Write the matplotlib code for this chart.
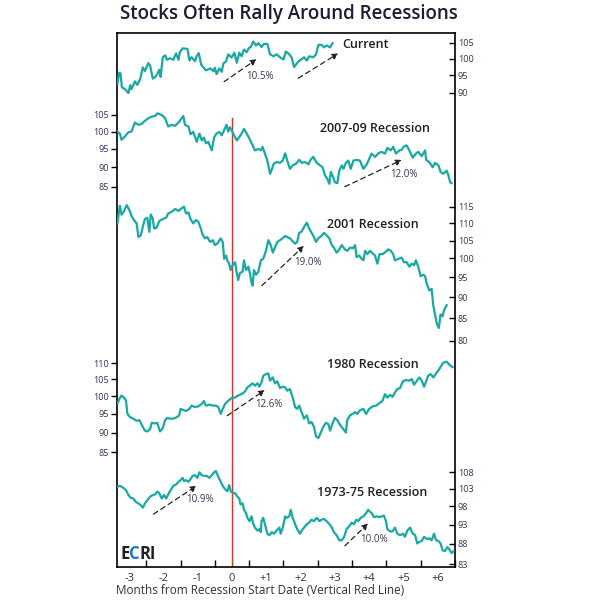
import numpy as np
import matplotlib
matplotlib.use("Agg")
import matplotlib.pyplot as plt
from matplotlib.ticker import FixedLocator, FixedFormatter, NullLocator

plt.rcParams['font.family'] = ['Open Sans', 'DejaVu Sans']

# months from recession start date, index values
cur_m = [-3.34, -3.29, -3.25, -3.21, -3.12, -3.02, -2.97, -2.93, -2.83, -2.76, -2.68, -2.60, -2.54, -2.44,
         -2.39, -2.31, -2.24, -2.18, -2.12, -2.08, -2.02, -1.95, -1.90, -1.81, -1.71, -1.63, -1.56, -1.52,
         -1.44, -1.30, -1.24, -1.18, -1.08, -1.03, -0.97, -0.90, -0.84, -0.76, -0.64, -0.54, -0.50, -0.45,
         -0.37, -0.30, -0.25, -0.17, -0.11, -0.01, 0.07, 0.14, 0.21, 0.28, 0.35, 0.43, 0.49, 0.54, 0.62,
         0.70, 0.77, 0.86, 0.93, 1.03, 1.11, 1.21, 1.30, 1.40, 1.50, 1.57, 1.67, 1.74, 1.81, 1.89, 1.96,
         2.03, 2.10, 2.18, 2.25, 2.37, 2.45, 2.52, 2.61, 2.68, 2.76, 2.86, 2.93]
cur_v = [92.5, 95.7, 95.5, 91.5, 91.0, 89.9, 92.1, 91.0, 93.2, 92.2, 93.8, 97.3, 96.2, 98.6,
         97.9, 94.0, 94.5, 95.3, 96.6, 94.5, 100.3, 101.0, 99.6, 100.1, 99.6, 101.6, 99.6, 102.0,
         103.2, 103.0, 99.4, 100.4, 99.2, 100.7, 101.7, 98.2, 97.4, 96.4, 97.0, 96.2, 97.2, 95.3,
         97.0, 96.0, 98.5, 99.2, 101.3, 100.3, 101.8, 98.7, 101.8, 100.7, 102.8, 102.0, 103.3, 103.5, 105.4,
         104.1, 104.9, 103.6, 104.6, 104.6, 101.3, 100.7, 101.3, 100.4, 99.7, 102.2, 101.3, 100.3, 97.4, 98.5, 99.3,
         99.8, 100.4, 99.4, 100.7, 100.4, 101.3, 104.3, 104.3, 103.5, 104.1, 103.5, 104.8]

r07_m = [-3.34, -3.27, -3.22, -3.12, -3.02, -2.93, -2.83, -2.73, -2.63, -2.54, -2.44, -2.34, -2.24, -2.18,
         -2.05, -1.95, -1.86, -1.76, -1.66, -1.56, -1.47, -1.42, -1.37, -1.27, -1.21, -1.13, -1.03, -0.95,
         -0.88, -0.82, -0.76, -0.69, -0.59, -0.52, -0.45, -0.37, -0.30, -0.23, -0.16, -0.11, -0.06, -0.01,
         0.06, 0.14, 0.21, 0.28, 0.35, 0.43, 0.52, 0.60, 0.67, 0.77, 0.84, 0.89, 0.96, 1.03, 1.11, 1.16,
         1.22, 1.30, 1.40, 1.48, 1.55, 1.61, 1.69, 1.77, 1.87, 1.96, 2.03, 2.13, 2.23, 2.29, 2.37, 2.47,
         2.57, 2.64, 2.71, 2.78, 2.84, 2.88, 2.95, 3.00, 3.07, 3.13, 3.20, 3.25, 3.32, 3.39, 3.46, 3.54,
         3.63, 3.73, 3.83, 3.93, 4.00, 4.07, 4.17, 4.27, 4.36, 4.46, 4.53, 4.63, 4.70, 4.78, 4.88, 4.95,
         5.01, 5.09, 5.17, 5.27, 5.36, 5.43, 5.53, 5.63, 5.66, 5.75, 5.85, 5.92, 6.02, 6.08, 6.16, 6.26,
         6.31, 6.36, 6.40]
r07_v = [100.0, 99.4, 97.6, 98.6, 99.8, 100.0, 102.7, 102.0, 102.3, 103.2, 104.0, 104.5, 104.7, 105.5,
         105.0, 104.0, 101.5, 102.0, 101.7, 102.7, 104.0, 104.7, 102.0, 101.5, 99.2, 99.9, 97.0, 99.4,
         97.4, 98.2, 96.6, 97.0, 94.6, 98.4, 99.4, 99.9, 98.9, 100.4, 102.0, 100.0, 101.3, 100.3,
         98.9, 97.4, 98.4, 99.4, 100.8, 99.4, 97.7, 96.0, 94.6, 95.0, 94.6, 95.6, 93.7, 91.8, 88.3, 89.4,
         91.0, 91.4, 91.2, 91.8, 93.8, 91.8, 89.6, 90.5, 91.0, 92.0, 91.2, 91.4, 90.8, 92.0, 92.8, 91.2,
         90.5, 90.0, 87.9, 87.0, 85.7, 88.8, 87.4, 86.1, 85.9, 89.2, 90.5, 89.6, 91.2, 91.8, 89.6, 91.8,
         92.0, 91.8, 89.6, 90.8, 92.3, 93.7, 92.8, 93.8, 94.2, 93.7, 95.3, 94.6, 95.6, 93.7, 94.6, 94.8,
         95.7, 96.0, 94.6, 92.6, 93.7, 94.2, 93.0, 94.6, 92.0, 91.4, 90.0, 91.2, 90.5, 88.8, 88.3, 89.1,
         87.9, 86.1, 85.9]

r01_m = [-3.34, -3.27, -3.22, -3.15, -3.07, -2.99, -2.93, -2.86, -2.78, -2.73, -2.66, -2.60, -2.54, -2.47,
         -2.41, -2.37, -2.31, -2.27, -2.20, -2.12, -2.02, -1.92, -1.86, -1.76, -1.66, -1.56, -1.47, -1.40,
         -1.34, -1.27, -1.21, -1.13, -1.05, -0.98, -0.91, -0.86, -0.79, -0.72, -0.64, -0.56, -0.50, -0.43,
         -0.33, -0.27, -0.23, -0.17, -0.14, -0.08, -0.04, 0.02, 0.09, 0.14, 0.18, 0.23, 0.31, 0.35, 0.41,
         0.48, 0.52, 0.57, 0.60, 0.64, 0.70, 0.77, 0.84, 0.91, 0.99, 1.06, 1.13, 1.19, 1.25, 1.32, 1.40,
         1.48, 1.55, 1.61, 1.69, 1.77, 1.84, 1.90, 1.96, 2.03, 2.10, 2.18, 2.25, 2.32, 2.39, 2.45, 2.52,
         2.61, 2.68, 2.76, 2.84, 2.91, 2.97, 3.05, 3.13, 3.20, 3.29, 3.36, 3.44, 3.52, 3.59, 3.63, 3.71,
         3.78, 3.83, 3.88, 3.95, 4.02, 4.10, 4.17, 4.24, 4.30, 4.39, 4.49, 4.56, 4.63, 4.70, 4.75, 4.85,
         4.95, 5.01, 5.09, 5.17, 5.24, 5.31, 5.36, 5.43, 5.50, 5.58, 5.63, 5.68, 5.75, 5.82, 5.87, 5.92,
         5.97, 6.03, 6.08, 6.14, 6.18, 6.26]
r01_v = [110.0, 115.4, 112.6, 113.6, 115.6, 114.0, 112.3, 111.0, 110.0, 106.0, 106.5, 109.0, 111.3, 111.7,
         107.5, 112.7, 111.5, 108.5, 108.7, 110.7, 111.3, 111.7, 113.0, 113.5, 114.4, 113.8, 114.6, 115.1,
         113.0, 113.3, 111.3, 110.0, 111.0, 110.5, 108.5, 106.8, 105.6, 106.0, 104.6, 105.1, 103.7, 104.1,
         105.6, 104.6, 99.9, 100.8, 99.5, 98.6, 96.9, 98.2, 99.0, 96.1, 94.3, 96.1, 96.5, 99.5, 96.9,
         97.8, 96.1, 93.6, 92.9, 96.9, 95.7, 96.5, 99.5, 99.9, 102.1, 105.1, 103.7, 101.6, 103.0, 104.6, 105.1,
         105.7, 106.3, 106.0, 105.6, 104.8, 104.1, 104.6, 107.2, 107.6, 108.9, 110.2, 108.5, 107.2, 106.0, 104.6, 105.7,
         106.3, 107.2, 106.5, 105.6, 103.7, 103.0, 101.6, 102.5, 103.7, 102.5, 102.1, 103.0, 102.8, 103.7, 100.4, 100.8,
         99.9, 99.5, 102.1, 101.2, 102.1, 101.4, 100.8, 98.6, 101.2, 101.2, 101.9, 102.5, 102.1, 101.2, 99.5, 99.9,
         100.2, 99.0, 99.0, 97.8, 98.6, 98.2, 99.5, 97.8, 95.3, 95.7, 95.3, 93.3, 91.7, 92.1, 87.9, 85.9,
         83.8, 82.8, 85.9, 85.5, 86.9, 88.1]

r80_m = [-3.34, -3.28, -3.22, -3.15, -3.09, -3.05, -2.97, -2.88, -2.78, -2.70, -2.63, -2.54, -2.47, -2.39,
         -2.34, -2.24, -2.18, -2.10, -2.02, -1.95, -1.89, -1.81, -1.71, -1.61, -1.54, -1.50, -1.42, -1.34,
         -1.24, -1.18, -1.08, -0.98, -0.88, -0.82, -0.76, -0.66, -0.56, -0.47, -0.40, -0.33, -0.27, -0.20,
         -0.11, -0.01, 0.09, 0.16, 0.23, 0.31, 0.38, 0.45, 0.52, 0.60, 0.67, 0.74, 0.80, 0.86, 0.91, 0.99,
         1.06, 1.11, 1.19, 1.25, 1.32, 1.40, 1.48, 1.55, 1.61, 1.69, 1.77, 1.84, 1.90, 1.96, 2.03, 2.10,
         2.18, 2.25, 2.32, 2.39, 2.45, 2.52, 2.59, 2.66, 2.74, 2.81, 2.86, 2.93, 3.00, 3.07, 3.15, 3.23,
         3.32, 3.36, 3.44, 3.52, 3.59, 3.65, 3.73, 3.83, 3.91, 4.00, 4.10, 4.20, 4.30, 4.39, 4.46, 4.53,
         4.61, 4.68, 4.75, 4.82, 4.90, 4.98, 5.07, 5.17, 5.24, 5.31, 5.38, 5.46, 5.53, 5.60, 5.66, 5.72,
         5.79, 5.87, 5.95, 6.02, 6.08, 6.16, 6.26, 6.34, 6.43]
r80_v = [97.9, 99.3, 100.2, 99.6, 98.7, 95.0, 94.1, 93.7, 93.1, 93.3, 92.0, 90.5, 90.3, 90.9,
         92.6, 92.4, 92.6, 90.3, 91.1, 93.3, 93.9, 93.7, 93.7, 94.1, 94.6, 96.4, 96.1, 95.8,
         96.4, 97.3, 96.9, 97.1, 97.8, 98.6, 97.3, 97.6, 97.3, 97.3, 96.9, 95.0, 96.4, 97.8,
         98.7, 99.5, 99.6, 100.1, 100.4, 100.8, 101.4, 102.6, 103.1, 103.8, 103.1, 103.8, 102.8, 104.1, 106.1, 106.6,
         106.8, 104.6, 105.6, 103.8, 104.4, 102.4, 102.8, 102.6, 101.6, 102.1, 99.6, 96.9, 96.4, 97.3, 95.5, 93.7,
         94.6, 92.4, 92.8, 91.5, 89.0, 88.6, 90.0, 91.5, 92.6, 92.2, 90.5, 92.4, 93.9, 93.3, 92.0, 91.1,
         90.0, 93.3, 94.6, 95.0, 95.5, 95.0, 96.0, 96.4, 95.0, 96.4, 97.1, 97.3, 98.0, 98.7, 100.6, 99.6,
         100.4, 99.8, 101.1, 102.1, 102.4, 104.4, 104.8, 104.6, 105.1, 103.4, 104.4, 105.6, 104.6, 102.8, 104.4, 106.1,
         106.6, 105.6, 106.8, 107.8, 108.8, 110.2, 110.5, 109.5, 108.8]

r73_m = [-3.34, -3.27, -3.17, -3.09, -3.02, -2.95, -2.88, -2.80, -2.73, -2.66, -2.60, -2.54, -2.47, -2.39,
         -2.31, -2.24, -2.18, -2.12, -2.05, -1.98, -1.92, -1.86, -1.79, -1.71, -1.63, -1.56, -1.50, -1.44,
         -1.40, -1.34, -1.27, -1.21, -1.15, -1.08, -1.01, -0.95, -0.88, -0.82, -0.74, -0.66, -0.59, -0.52,
         -0.47, -0.40, -0.33, -0.27, -0.20, -0.14, -0.08, -0.04, 0.02, 0.09, 0.16, 0.21, 0.25, 0.31, 0.35,
         0.41, 0.45, 0.51, 0.57, 0.62, 0.67, 0.74, 0.80, 0.84, 0.86, 0.91, 0.96, 1.03, 1.09, 1.16, 1.22,
         1.30, 1.38, 1.42, 1.48, 1.55, 1.59, 1.67, 1.71, 1.77, 1.84, 1.90, 1.98, 2.03, 2.10, 2.18, 2.25,
         2.32, 2.39, 2.47, 2.55, 2.61, 2.68, 2.76, 2.84, 2.91, 2.97, 3.05, 3.13, 3.20, 3.27, 3.34, 3.42,
         3.49, 3.56, 3.62, 3.68, 3.75, 3.83, 3.91, 3.97, 4.02, 4.07, 4.14, 4.22, 4.30, 4.36, 4.43, 4.49,
         4.53, 4.61, 4.68, 4.75, 4.82, 4.90, 4.98, 5.04, 5.11, 5.19, 5.27, 5.34, 5.40, 5.46, 5.53, 5.60,
         5.68, 5.75, 5.82, 5.89, 5.95, 6.02, 6.08, 6.14, 6.21, 6.28, 6.34, 6.40, 6.45]
r73_v = [103.6, 103.9, 103.3, 102.6, 101.2, 100.4, 100.2, 99.2, 98.8, 98.3, 97.6, 98.8, 99.7, 100.7,
         101.2, 101.4, 102.2, 101.7, 100.2, 101.2, 100.2, 101.4, 102.6, 103.9, 104.3, 105.1, 105.6, 106.3,
         105.3, 105.6, 105.1, 105.9, 106.9, 107.1, 106.3, 108.0, 107.1, 106.9, 106.9, 106.3, 107.1, 108.0,
         108.4, 106.6, 105.1, 103.9, 102.9, 102.3, 104.1, 102.3, 101.9, 101.7, 100.7, 100.2, 98.5, 98.8, 97.0,
         96.1, 94.8, 93.9, 95.2, 93.1, 92.2, 91.4, 91.8, 91.0, 93.9, 94.8, 93.1, 90.6, 90.2, 91.0, 90.6,
         91.4, 92.2, 90.6, 92.2, 95.2, 94.8, 95.2, 97.0, 94.8, 93.1, 91.8, 90.6, 91.4, 92.2, 93.1, 93.5,
         94.3, 93.9, 94.8, 93.9, 94.3, 94.5, 93.9, 93.1, 92.2, 91.0, 90.2, 88.9, 88.9, 89.8, 91.8, 92.6,
         93.5, 93.1, 94.3, 93.9, 94.8, 95.2, 96.1, 97.0, 96.5, 96.1, 95.0, 95.2, 95.0, 95.2, 95.4, 93.9,
         91.8, 91.2, 91.2, 92.2, 90.6, 90.2, 90.6, 89.8, 91.4, 92.2, 90.6, 90.2, 88.1, 88.5, 88.7, 89.8,
         89.2, 89.4, 88.9, 90.6, 88.9, 88.7, 88.1, 86.4, 86.2, 87.2, 86.6, 85.7, 86.1]

# panel names, y ticks and annotations
names = ["Current", "2007-09 Recession", "2001 Recession", "1980 Recession", "1973-75 Recession"]
yticks = [[90, 95, 100, 105],
          [85, 90, 95, 100, 105],
          [80, 85, 90, 95, 100, 105, 110, 115],
          [85, 90, 95, 100, 105, 110],
          [83, 88, 93, 98, 103, 108]]
sides = ["right", "left", "right", "left", "right"]
# (start month, start value, end month, end value, label, label month, label value)
rallies = [
    [(-0.23, 93.1, 0.72, 99.8, "10.5%", 0.82, 94.5), (1.93, 94.1, 3.10, 101.6, "", 0, 0)],
    [(3.29, 85.0, 4.95, 92.0, "12.0%", 5.00, 88.0)],
    [(0.87, 92.9, 2.10, 103.5, "19.0%", 2.22, 98.8)],
    [(-0.14, 94.5, 0.96, 101.8, "12.6%", 1.06, 97.5)],
    [(-2.29, 95.8, -1.03, 103.9, "10.9%", -0.92, 100.0), (3.29, 87.5, 3.97, 93.3, "10.0%", 4.13, 89.0)],
]
xtick_pos = [-3, -2, -1, 0, 1, 2, 3, 4, 5, 6]
xtick_lab = ["-3", "-2", "-1", "0", "+1", "+2", "+3", "+4", "+5", "+6"]

series = [(cur_m, cur_v), (r07_m, r07_v), (r01_m, r01_v), (r80_m, r80_v), (r73_m, r73_v)]

# layout in pixels (600x600 canvas)
W = H = 600
L, R, T, B = 117, 455, 33, 567
XLIM = ((L - 232) / 34.3, (R - 232) / 34.3)
# pixel anchors of two tick values for each panel scale
anchors = [(105, 42.7, 90, 92.7), (105, 115, 85, 186.7), (115, 207, 80, 340.7),
           (110, 363.3, 85, 452.3), (108, 472.3, 83, 564.3)]
label_xy = [(342, 44, "left"), (430, 128, "right"), (419, 224, "right"),
            (419, 365, "right"), (427, 492, "right")]

TEAL = "#17a9a3"
TICKC = "#3d2b56"
TXT = "#231f20"

fig = plt.figure(figsize=(6, 6), dpi=100)
rect = [L / W, 1 - B / H, (R - L) / W, (B - T) / H]

frame = fig.add_axes(rect)
frame.set_xlim(XLIM)
frame.set_ylim(0, 1)
frame.set_yticks([])
frame.set_xticks(xtick_pos)
frame.set_xticklabels(xtick_lab)
frame.set_xticks(np.arange(-2.5, 6.6, 1), minor=True)
frame.tick_params(axis="x", which="major", length=0, labelsize=8, colors="#333333", pad=4)
frame.tick_params(axis="x", which="minor", direction="in", length=5, width=1, color="black")
for sp in frame.spines.values():
    sp.set_linewidth(1.2)
frame.axvline(0, ymin=0, ymax=(B - 118) / (B - T), color="#d9302a", lw=1)

for i, (m, v) in enumerate(series):
    ax = fig.add_axes(rect, label="panel%d" % i)
    ax.patch.set_visible(False)
    for sp in ax.spines.values():
        sp.set_visible(False)
    ax.set_xlim(XLIM)
    ax.xaxis.set_visible(False)
    ax.set_yscale("log")
    v1, p1, v2, p2 = anchors[i]
    k = (p2 - p1) / np.log(v1 / v2)
    ax.set_ylim(v1 * np.exp(-(B - p1) / k), v1 * np.exp((p1 - T) / k))
    ax.yaxis.set_major_locator(FixedLocator(yticks[i]))
    ax.yaxis.set_major_formatter(FixedFormatter([str(t) for t in yticks[i]]))
    ax.yaxis.set_minor_locator(NullLocator())
    ax.yaxis.set_ticks_position(sides[i])
    ax.tick_params(axis="y", direction="out" if sides[i] == "left" else "in", length=4, width=1,
                   labelsize=6.5, labelcolor=TICKC, pad=2)
    ax.plot(m, v, color=TEAL, lw=1.6, solid_joinstyle="round")

    for (xs, ys, xe, ye, lab, lx, ly) in rallies[i]:
        ax.annotate("", xy=(xe, ye), xytext=(xs, ys),
                    arrowprops=dict(arrowstyle="-|>", color="#222222", lw=0.9, ls=(0, (4, 3)),
                                    mutation_scale=9, shrinkA=0, shrinkB=0))
        if lab:
            ax.text(lx, ly, lab, fontsize=7, color="#3d3550", ha="center", va="center")

    lx, ly, ha = label_xy[i]
    fig.text(lx / W, 1 - ly / H, names[i], fontsize=9, fontweight="semibold", color=TXT,
             ha=ha, va="center")

fig.text(289 / W, 1 - 14 / H, "Stocks Often Rally Around Recessions", fontsize=13.5,
         fontweight="semibold", color="#1f1a35", ha="center", va="center")
fig.text(116 / W, 1 - 590 / H, "Months from Recession Start Date (Vertical Red Line)",
         fontsize=8.5, color="#333333", ha="left", va="center")

# ECRI logo, middle letter in blue
e = fig.text(120 / W, 1 - 559 / H, "E", fontsize=12, fontweight="bold", color="#231f20",
             va="baseline")
c = fig.text(0, 0, "C", fontsize=12, fontweight="bold", color="#1e73d2")
c.remove()
c = plt.annotate("C", xy=(1, 0), xycoords=e, fontsize=12, fontweight="bold", color="#1e73d2",
                 va="bottom", annotation_clip=False)
plt.annotate("RI", xy=(1, 0), xycoords=c, fontsize=12, fontweight="bold", color="#231f20",
             va="bottom", annotation_clip=False)

fig.savefig("out.png", dpi=100, facecolor="white")
